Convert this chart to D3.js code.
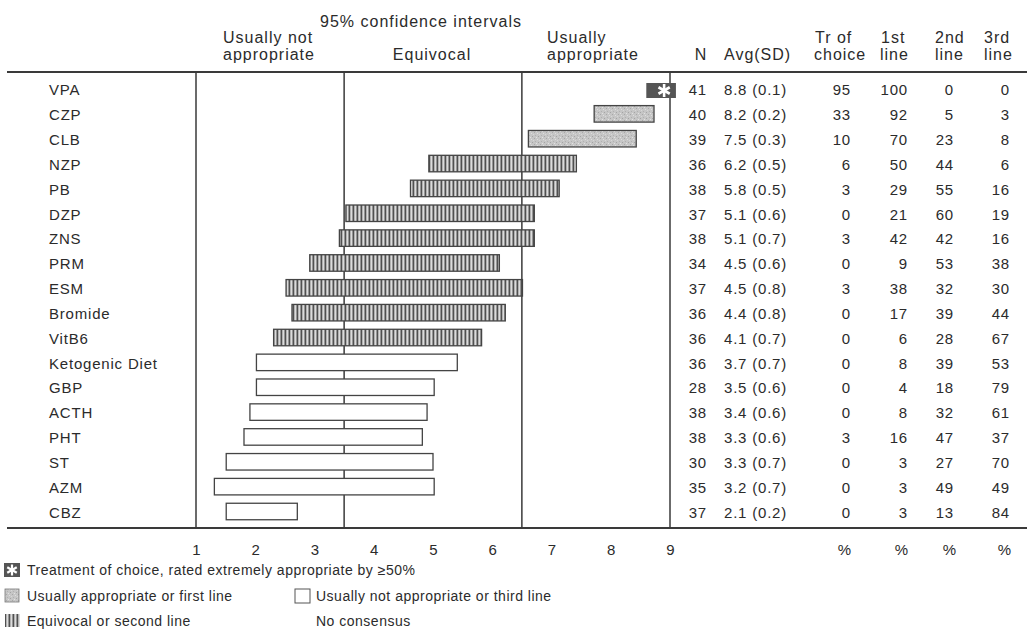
<!DOCTYPE html>
<html>
<head>
<meta charset="utf-8">
<script src="https://cdn.jsdelivr.net/npm/d3@7"></script>
<style>
  html, body { margin: 0; padding: 0; background: #ffffff; }
  svg { display: block; }
  text { font-family: "Liberation Sans", Arial, Helvetica, sans-serif; fill: #2b2b2b; }
</style>
</head>
<body>
<svg id="chart" width="1027" height="631"></svg>
<script>
// ---------- data ----------
const categories = ["VPA","CZP","CLB","NZP","PB","DZP","ZNS","PRM","ESM","Bromide","VitB6",
  "Ketogenic Diet","GBP","ACTH","PHT","ST","AZM","CBZ"];
const ciLow  = [8.6, 7.72, 6.61, 4.93, 4.62, 3.53, 3.42, 2.92, 2.52, 2.62, 2.31, 2.02, 2.02, 1.91, 1.81, 1.51, 1.31, 1.51];
const ciHigh = [9.1, 8.73, 8.43, 7.42, 7.13, 6.71, 6.71, 6.12, 6.51, 6.22, 5.82, 5.41, 5.02, 4.90, 4.82, 5.00, 5.02, 2.71];
const ratingClass = ["choice","appropriate","appropriate","equivocal","equivocal","equivocal","equivocal",
  "equivocal","equivocal","equivocal","equivocal","notAppropriate","notAppropriate","notAppropriate",
  "notAppropriate","notAppropriate","notAppropriate","notAppropriate"];
const nValues    = [41, 40, 39, 36, 38, 37, 38, 34, 37, 36, 36, 36, 28, 38, 38, 30, 35, 37];
const avgValues  = [8.8, 8.2, 7.5, 6.2, 5.8, 5.1, 5.1, 4.5, 4.5, 4.4, 4.1, 3.7, 3.5, 3.4, 3.3, 3.3, 3.2, 2.1];
const sdValues   = [0.1, 0.2, 0.3, 0.5, 0.5, 0.6, 0.7, 0.6, 0.8, 0.8, 0.7, 0.7, 0.6, 0.6, 0.6, 0.7, 0.7, 0.2];
const trChoice   = [95, 33, 10, 6, 3, 0, 3, 0, 3, 0, 0, 0, 0, 0, 3, 0, 0, 0];
const firstLine  = [100, 92, 70, 50, 29, 21, 42, 9, 38, 17, 6, 8, 4, 8, 16, 3, 3, 3];
const secondLine = [0, 5, 23, 44, 55, 60, 42, 53, 32, 39, 28, 39, 18, 32, 47, 27, 49, 13];
const thirdLine  = [0, 3, 8, 6, 16, 19, 16, 38, 30, 44, 67, 53, 79, 61, 37, 70, 49, 84];
const xTicks = [1, 2, 3, 4, 5, 6, 7, 8, 9];
const zoneBounds = [1, 3.5, 6.5, 9];

// ---------- layout ----------
const svg = d3.select("#chart");
const ink = "#2b2b2b", lineInk = "#3a3a3a";
const topY = 72, botY = 528;
const x = d3.scaleLinear().domain([1, 9]).range([196, 670]);
const y = d3.scalePoint().domain(categories).range([90, 512.5]);
const barH = 16.5;

// patterns
const defs = svg.append("defs");
const stripe = defs.append("pattern").attr("id", "stripes")
  .attr("patternUnits", "userSpaceOnUse").attr("width", 4).attr("height", 8);
stripe.append("rect").attr("width", 4).attr("height", 8).attr("fill", "#dcdcdc");
stripe.append("rect").attr("x", 0.5).attr("width", 1.8).attr("height", 8).attr("fill", "#505050");

const stip = defs.append("pattern").attr("id", "stipple")
  .attr("patternUnits", "userSpaceOnUse").attr("width", 6).attr("height", 6);
stip.append("rect").attr("width", 6).attr("height", 6).attr("fill", "#c6c6c6");
[[0,0,"#a8a8a8"],[3,1,"#dedede"],[1,3,"#b0b0b0"],[4,4,"#a4a4a4"],[5,2,"#d8d8d8"],[2,5,"#e2e2e2"]]
  .forEach(([px, py, c]) => stip.append("rect").attr("x", px).attr("y", py).attr("width", 1).attr("height", 1).attr("fill", c));

const fillFor = c => c === "appropriate" ? "url(#stipple)" : c === "equivocal" ? "url(#stripes)" : "#ffffff";

// frame lines
svg.append("line").attr("x1", 7).attr("x2", 1027).attr("y1", topY).attr("y2", topY)
  .attr("stroke", lineInk).attr("stroke-width", 2);
svg.append("line").attr("x1", 7).attr("x2", 1027).attr("y1", botY).attr("y2", botY)
  .attr("stroke", lineInk).attr("stroke-width", 2);
svg.selectAll("line.zone").data(zoneBounds).join("line").attr("class", "zone")
  .attr("x1", d => x(d)).attr("x2", d => x(d)).attr("y1", topY).attr("y2", botY)
  .attr("stroke", lineInk).attr("stroke-width", 1.5);

// headers
const hdr = svg.append("g").style("font-size", "16px").style("letter-spacing", "1px");
hdr.append("text").attr("x", 421).attr("y", 27).attr("text-anchor", "middle").text("95% confidence intervals");
hdr.append("text").attr("x", 223).attr("y", 43).text("Usually not");
hdr.append("text").attr("x", 223).attr("y", 60).text("appropriate");
hdr.append("text").attr("x", 432).attr("y", 60).attr("text-anchor", "middle").text("Equivocal");
hdr.append("text").attr("x", 547).attr("y", 43).text("Usually");
hdr.append("text").attr("x", 547).attr("y", 60).text("appropriate");
hdr.append("text").attr("x", 701).attr("y", 60).attr("text-anchor", "middle").text("N");
hdr.append("text").attr("x", 724).attr("y", 60).text("Avg(SD)");
hdr.append("text").attr("x", 815).attr("y", 43).text("Tr of");
hdr.append("text").attr("x", 814).attr("y", 60).text("choice");
hdr.append("text").attr("x", 881).attr("y", 43).text("1st");
hdr.append("text").attr("x", 880).attr("y", 60).text("line");
hdr.append("text").attr("x", 935).attr("y", 43).text("2nd");
hdr.append("text").attr("x", 935).attr("y", 60).text("line");
hdr.append("text").attr("x", 984).attr("y", 43).text("3rd");
hdr.append("text").attr("x", 984).attr("y", 60).text("line");

// row labels
svg.append("g").style("font-size", "15px").style("letter-spacing", "0.8px")
  .selectAll("text").data(categories).join("text")
  .attr("x", 49).attr("y", d => y(d)).attr("dy", "0.35em").text(d => d);

// bars
const rows = categories.map((c, i) => ({ c, lo: ciLow[i], hi: ciHigh[i], cls: ratingClass[i] }));
svg.append("g").selectAll("rect").data(rows.filter(r => r.cls !== "choice")).join("rect")
  .attr("x", d => x(d.lo)).attr("width", d => x(d.hi) - x(d.lo))
  .attr("y", d => y(d.c) - barH / 2 - 1).attr("height", barH)
  .attr("fill", d => fillFor(d.cls)).attr("stroke", "#444").attr("stroke-width", 1.3);

function asterisk(g, cx, cy, r, w) {
  [0, 60, 120].forEach(a => {
    const rad = a * Math.PI / 180;
    g.append("line").attr("x1", cx - r * Math.sin(rad)).attr("y1", cy - r * Math.cos(rad))
      .attr("x2", cx + r * Math.sin(rad)).attr("y2", cy + r * Math.cos(rad))
      .attr("stroke", "#fff").attr("stroke-width", w).attr("stroke-linecap", "butt");
  });
}
rows.filter(r => r.cls === "choice").forEach(r => {
  const g = svg.append("g");
  const x0 = x(r.lo), x1 = x(r.hi), cy = y(r.c) + 0.5;
  g.append("rect").attr("x", x0).attr("y", cy - 7.5).attr("width", x1 - x0).attr("height", 15)
    .attr("fill", "#555");
  asterisk(g, (x0 + x1) / 2 + 3, cy, 6.5, 2.6);
});

// table
const tbl = svg.append("g").style("font-size", "15px").style("letter-spacing", "0.8px");
const cols = [
  { vals: nValues, x: 707, anchor: "end" },
  { vals: avgValues.map((a, i) => a.toFixed(1) + " (" + sdValues[i].toFixed(1) + ")"), x: 724, anchor: "start" },
  { vals: trChoice, x: 851, anchor: "end" },
  { vals: firstLine, x: 908, anchor: "end" },
  { vals: secondLine, x: 954, anchor: "end" },
  { vals: thirdLine, x: 1010, anchor: "end" }
];
cols.forEach(col => {
  tbl.append("g").selectAll("text").data(col.vals).join("text")
    .attr("x", col.x).attr("y", (d, i) => y(categories[i])).attr("dy", "0.35em")
    .attr("text-anchor", col.anchor).text(d => d);
});

// x axis
const axisG = svg.append("g").attr("transform", `translate(0,${botY})`)
  .call(d3.axisBottom(x).tickValues(xTicks).tickSize(0).tickPadding(16).tickFormat(d3.format("d")));
axisG.select(".domain").remove();
axisG.selectAll("text").style("font-size", "15px").style("font-family", "'Liberation Sans', Arial, sans-serif").attr("fill", ink);

// percent labels
svg.append("g").style("font-size", "15px").selectAll("text").data([851, 908, 956, 1011]).join("text")
  .attr("x", d => d).attr("y", 555).attr("text-anchor", "end").attr("fill", "#777").text("%");

// legend
const lg = svg.append("g").style("font-size", "14px").style("letter-spacing", "0.5px");
const l1 = 570, l2 = 596, l3 = 621;
const sg = lg.append("g");
sg.append("rect").attr("x", 4).attr("y", l1 - 7).attr("width", 16).attr("height", 14).attr("fill", "#555");
asterisk(sg, 12, l1, 5.5, 2.2);
lg.append("text").attr("x", 27).attr("y", l1).attr("dy", "0.35em").text("Treatment of choice, rated extremely appropriate by \u226550%");
lg.append("rect").attr("x", 5).attr("y", l2 - 7).attr("width", 14).attr("height", 13).attr("fill", "url(#stipple)").attr("stroke", "#777").attr("stroke-width", 0.8);
lg.append("text").attr("x", 27).attr("y", l2).attr("dy", "0.35em").text("Usually appropriate or first line");
lg.append("rect").attr("x", 5).attr("y", l3 - 7).attr("width", 15).attr("height", 13).attr("fill", "url(#stripes)");
lg.append("text").attr("x", 27).attr("y", l3).attr("dy", "0.35em").text("Equivocal or second line");
lg.append("rect").attr("x", 295).attr("y", l2 - 7).attr("width", 15).attr("height", 14).attr("fill", "#fff").attr("stroke", "#555").attr("stroke-width", 1);
lg.append("text").attr("x", 316).attr("y", l2).attr("dy", "0.35em").text("Usually not appropriate or third line");
lg.append("text").attr("x", 316).attr("y", l3).attr("dy", "0.35em").text("No consensus");
</script>
</body>
</html>
